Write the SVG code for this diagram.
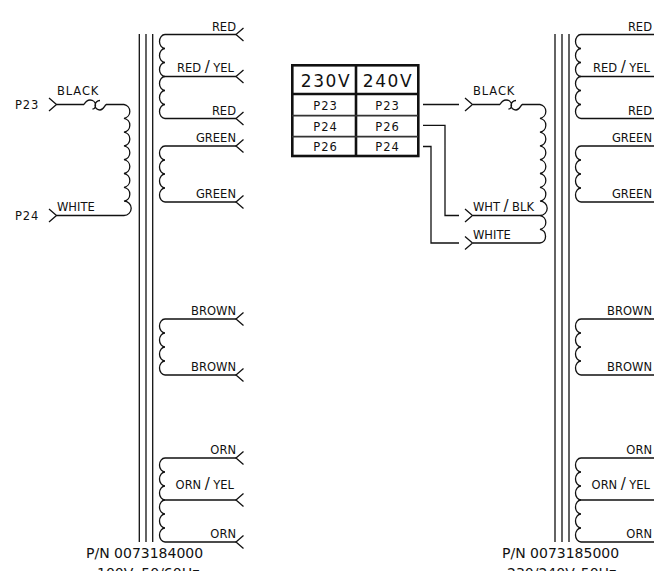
<svg xmlns="http://www.w3.org/2000/svg" width="654" height="571" viewBox="0 0 654 571">
<style>
.w{fill:none;stroke:#111;stroke-width:1.3}
.t{fill:#111;font-family:"DejaVu Sans",sans-serif;font-size:11.5px}
.e{text-anchor:end}
.b{font-size:14px}
.s{letter-spacing:.9px}
.l{font-size:15px}
.g{fill:#111;font-family:"DejaVu Sans",sans-serif;font-size:17px;letter-spacing:1.6px;text-anchor:middle}
.c{fill:#111;font-family:"DejaVu Sans",sans-serif;font-size:11.5px;letter-spacing:1px;text-anchor:middle}
.th{fill:none;stroke:#111;stroke-width:2.6}
.tm{fill:none;stroke:#333;stroke-width:1.8}
</style>
<defs>
<path id="tr" class="w" d="M7.5-6.5L0 0L7.5 6.5"/>
<path id="tl" class="w" d="M0-6.5L7.5 0L0 6.5"/>
<path id="fuse" class="w" d="M84 104.5C86 101 88 100 90 100C93 100 95.5 102 95.5 105C95.5 107.5 94 109 92.5 109M100 100.5C97 100.5 95 103 95 105.5C95 108 97.5 110 100 110C103 110 104 107 106 104.5"/>
<path id="c3" class="w" d="M6 0A5.5 7 0 0 0 6 14A5.5 7 0 0 0 6 28A5.5 7 0 0 0 6 42"/>
<path id="c4" class="w" d="M6 0A5.5 7 0 0 0 6 14A5.5 7 0 0 0 6 28A5.5 7 0 0 0 6 42A5.5 7 0 0 0 6 56"/>
</defs>
<g id="connectors">
<path class="w" d="M139.3 34V542M146 34V542M152.7 34V542"/>
<path class="w" d="M555 34V542M562 34V542M569 34V542"/>
<path class="w" d="M165 34.5H236M165 76.5H236M165 118.5H236M165 146H236M165 202H236M165 319H236M165 375H236M165 458H236M165 500H236M165 542H236"/>
<path class="w" d="M581 34.5H654M581 76.5H654M581 118.5H654M581 146H654M581 202H654M581 319H654M581 375H654M581 458H654M581 500H654M581 542H654"/>
<path class="w" d="M56.5 104.5H84M106 104.5H124M56.5 215.5H124"/>
<path class="w" d="M473 104.5H500M522 104.5H540M473 215.5H540M473 243H540"/>
<path class="w" d="M423 104.5H459M423 125.3H445V215.5H459M423 146.5H431V243H459"/>
</g>
<g id="fuse-left"><use href="#fuse"/></g>
<g id="fuse-right"><use href="#fuse" x="416"/></g>
<g id="primary-left">
<path class="w" d="M124 104.5A7 7 0 0 1 124 118.3A7 7 0 0 1 124 132.1A7 7 0 0 1 124 145.9A7 7 0 0 1 124 159.7A7 7 0 0 1 124 173.5A7 7 0 0 1 124 187.3A7 7 0 0 1 124 201.1A7 7 0 0 1 124 215.5"/>
<use href="#tl" x="49" y="104.5"/><use href="#tl" x="49" y="215.5"/>
<text class="t s" x="57" y="94.5">BLACK</text>
<text class="t" x="57" y="210.5">WHITE</text>
<text class="t s" x="15" y="109">P23</text>
<text class="t s" x="15" y="220">P24</text>
</g>
<g id="primary-right">
<path class="w" d="M540 104.5A7 7 0 0 1 540 118.3A7 7 0 0 1 540 132.1A7 7 0 0 1 540 145.9A7 7 0 0 1 540 159.7A7 7 0 0 1 540 173.5A7 7 0 0 1 540 187.3A7 7 0 0 1 540 201.1A7 7 0 0 1 540 215.5A7 7 0 0 1 540 229.3A7 7 0 0 1 540 243"/>
<use href="#tl" x="465" y="104.5"/><use href="#tl" x="465" y="215.5"/><use href="#tl" x="465" y="243"/>
<text class="t s" x="473" y="94.5">BLACK</text>
<text class="t" x="473" y="210.5">WHT<tspan class="l" dx="3.5">/</tspan><tspan dx="3.5">BLK</tspan></text>
<text class="t" x="473" y="238.5">WHITE</text>
</g>
<g id="secondary-left">
<use href="#c3" x="159" y="34.5"/><use href="#c3" x="159" y="76.5"/>
<use href="#c4" x="159" y="146"/><use href="#c4" x="159" y="319"/>
<use href="#c3" x="159" y="458"/><use href="#c3" x="159" y="500"/>
<use href="#tr" x="236" y="34.5"/><use href="#tr" x="236" y="76.5"/><use href="#tr" x="236" y="118.5"/><use href="#tr" x="236" y="146"/><use href="#tr" x="236" y="202"/><use href="#tr" x="236" y="319"/><use href="#tr" x="236" y="375"/><use href="#tr" x="236" y="458"/><use href="#tr" x="236" y="500"/><use href="#tr" x="236" y="542"/>
<text class="t e" x="236" y="31">RED</text><text class="t e" x="234" y="71.5">RED<tspan class="l" dx="3.5">/</tspan><tspan dx="3.5">YEL</tspan></text><text class="t e" x="236" y="115">RED</text>
<text class="t e" x="236" y="142">GREEN</text><text class="t e" x="236" y="198">GREEN</text>
<text class="t e" x="236" y="315">BROWN</text><text class="t e" x="236" y="371">BROWN</text>
<text class="t e" x="236" y="454">ORN</text><text class="t e" x="234" y="488.5">ORN<tspan class="l" dx="3.5">/</tspan><tspan dx="3.5">YEL</tspan></text><text class="t e" x="236" y="538">ORN</text>
<text class="t b" x="86" y="558">P/N 0073184000</text>
<text class="t b" x="97" y="578">100V<tspan dx="8">50/60Hz</tspan></text>
</g>
<g id="secondary-right">
<use href="#c3" x="575" y="34.5"/><use href="#c3" x="575" y="76.5"/>
<use href="#c4" x="575" y="146"/><use href="#c4" x="575" y="319"/>
<use href="#c3" x="575" y="458"/><use href="#c3" x="575" y="500"/>
<text class="t e" x="652" y="31">RED</text><text class="t e" x="650" y="71.5">RED<tspan class="l" dx="3.5">/</tspan><tspan dx="3.5">YEL</tspan></text><text class="t e" x="652" y="115">RED</text>
<text class="t e" x="652" y="142">GREEN</text><text class="t e" x="652" y="198">GREEN</text>
<text class="t e" x="652" y="315">BROWN</text><text class="t e" x="652" y="371">BROWN</text>
<text class="t e" x="652" y="454">ORN</text><text class="t e" x="650" y="488.5">ORN<tspan class="l" dx="3.5">/</tspan><tspan dx="3.5">YEL</tspan></text><text class="t e" x="652" y="538">ORN</text>
<text class="t b" x="502" y="558">P/N 0073185000</text>
<text class="t b" x="507" y="578">230/240V<tspan dx="6">50Hz</tspan></text>
</g>
<g id="voltage-table">
<rect class="th" x="292.3" y="65.3" width="126" height="90.7"/>
<path class="th" d="M356 65V156M292 94H418"/>
<path class="tm" d="M292 115.7H418M292 136.7H418"/>
<text class="g" x="326" y="87">230V</text><text class="g" x="388" y="87">240V</text>
<text class="c" x="325.5" y="109.5">P23</text><text class="c" x="387.5" y="109.5">P23</text>
<text class="c" x="325.5" y="130.5">P24</text><text class="c" x="387.5" y="130.5">P26</text>
<text class="c" x="325.5" y="151">P26</text><text class="c" x="387.5" y="151">P24</text>
</g>
</svg>
